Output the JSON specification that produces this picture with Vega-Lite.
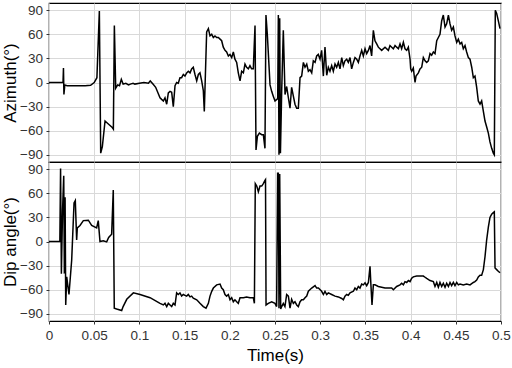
{
  "$schema": "https://vega.github.io/schema/vega-lite/v6.json",
  "padding": {"left": 1, "top": 2, "right": 5, "bottom": 0},
  "spacing": 0,
  "bounds": "flush",
  "background": "white",
  "config": {
    "font": "Liberation Sans",
    "view": {"stroke": "black", "strokeWidth": 1.2},
    "axis": {
      "gridColor": "#d9d9d9", "gridWidth": 1, "domain": false,
      "tickColor": "#333333", "tickSize": 3,
      "labelColor": "#333333", "labelFontSize": 13.5, "labelFont": "Liberation Sans",
      "titleFontSize": 17, "titleFontWeight": "normal", "titleColor": "black", "titleFont": "Liberation Sans"
    }
  },
  "resolve": {"scale": {"x": "independent", "y": "independent"}, "axis": {"x": "independent", "y": "independent"}},
  "datasets": {
    "az": [
      {"t":0,"v":0},{"t":0.0155,"v":0},{"t":0.016,"v":18},{"t":0.0165,"v":-15},{"t":0.0175,"v":-3},{"t":0.02,"v":-4},
      {"t":0.03,"v":-4},{"t":0.04,"v":-4},{"t":0.046,"v":-3.5},{"t":0.05,"v":0},{"t":0.053,"v":6},{"t":0.0557,"v":89},
      {"t":0.0572,"v":-88},{"t":0.059,"v":-80},{"t":0.062,"v":-48},{"t":0.065,"v":-51},{"t":0.07,"v":-56},{"t":0.0712,"v":-58},
      {"t":0.0723,"v":71},{"t":0.0738,"v":-7},{"t":0.076,"v":-3},{"t":0.078,"v":-4},{"t":0.08,"v":4},{"t":0.082,"v":-2},
      {"t":0.085,"v":-1},{"t":0.088,"v":-3},{"t":0.09,"v":-2},{"t":0.093,"v":-1},{"t":0.095,"v":-2},{"t":0.1,"v":-1},
      {"t":0.105,"v":0},{"t":0.11,"v":-1},{"t":0.112,"v":2},{"t":0.115,"v":-2},{"t":0.118,"v":-6},{"t":0.1228,"v":-19},
      {"t":0.1246,"v":-21},{"t":0.1265,"v":-23},{"t":0.1283,"v":-19},{"t":0.1302,"v":-27},{"t":0.132,"v":-13},{"t":0.1339,"v":-11},
      {"t":0.1357,"v":-12},{"t":0.1375,"v":-30},{"t":0.1394,"v":-4},{"t":0.1412,"v":0},{"t":0.143,"v":-1},{"t":0.1449,"v":6},
      {"t":0.1467,"v":6},{"t":0.1486,"v":10},{"t":0.1504,"v":8},{"t":0.1523,"v":12},{"t":0.1541,"v":14},{"t":0.156,"v":12},
      {"t":0.1578,"v":17},{"t":0.1596,"v":19},{"t":0.1615,"v":10},{"t":0.1634,"v":2},{"t":0.1652,"v":10},{"t":0.167,"v":12},
      {"t":0.1689,"v":2},{"t":0.1707,"v":-10},{"t":0.1718,"v":-36},{"t":0.1744,"v":63},{"t":0.1763,"v":67},{"t":0.1781,"v":58},
      {"t":0.18,"v":60},{"t":0.1818,"v":56},{"t":0.1836,"v":58},{"t":0.1855,"v":56},{"t":0.1873,"v":56},{"t":0.1892,"v":54},
      {"t":0.191,"v":52},{"t":0.1928,"v":44},{"t":0.1947,"v":40},{"t":0.1965,"v":38},{"t":0.1984,"v":33},{"t":0.2002,"v":35},
      {"t":0.2021,"v":31},{"t":0.2039,"v":38},{"t":0.2057,"v":29},{"t":0.2076,"v":25},{"t":0.2094,"v":12},{"t":0.2113,"v":2},
      {"t":0.2131,"v":14},{"t":0.215,"v":12},{"t":0.2168,"v":23},{"t":0.2186,"v":19},{"t":0.2205,"v":17},{"t":0.2223,"v":21},
      {"t":0.2241,"v":17},{"t":0.226,"v":17},{"t":0.2279,"v":71},{"t":0.229,"v":-84},{"t":0.2305,"v":-67},{"t":0.2327,"v":-63},
      {"t":0.2353,"v":-65},{"t":0.2371,"v":-65},{"t":0.2389,"v":-82},{"t":0.24,"v":84},{"t":0.2415,"v":60},{"t":0.2445,"v":-3},
      {"t":0.2463,"v":-11},{"t":0.2481,"v":-17},{"t":0.25,"v":-23},{"t":0.253,"v":-20},{"t":0.2537,"v":84},{"t":0.2544,"v":-90},
      {"t":0.2552,"v":80},{"t":0.256,"v":-88},{"t":0.2574,"v":-11},{"t":0.2592,"v":65},{"t":0.2611,"v":-15},{"t":0.2629,"v":-5},
      {"t":0.2648,"v":-19},{"t":0.2666,"v":-32},{"t":0.2684,"v":-6},{"t":0.2703,"v":-17},{"t":0.2721,"v":-27},{"t":0.274,"v":-32},
      {"t":0.2758,"v":-32},{"t":0.2777,"v":6},{"t":0.2795,"v":8},{"t":0.2814,"v":25},{"t":0.2832,"v":19},{"t":0.2851,"v":23},
      {"t":0.2869,"v":14},{"t":0.2887,"v":16},{"t":0.2906,"v":12},{"t":0.2924,"v":27},{"t":0.2943,"v":25},{"t":0.2961,"v":33},
      {"t":0.2979,"v":35},{"t":0.2998,"v":29},{"t":0.3016,"v":40},{"t":0.3035,"v":8},{"t":0.3053,"v":44},{"t":0.3072,"v":9},
      {"t":0.309,"v":19},{"t":0.3108,"v":14},{"t":0.3127,"v":21},{"t":0.3145,"v":14},{"t":0.3164,"v":23},{"t":0.3182,"v":19},
      {"t":0.3201,"v":25},{"t":0.3219,"v":17},{"t":0.3238,"v":31},{"t":0.3256,"v":21},{"t":0.3274,"v":27},{"t":0.3293,"v":29},
      {"t":0.3311,"v":25},{"t":0.333,"v":31},{"t":0.3348,"v":17},{"t":0.3367,"v":25},{"t":0.3385,"v":31},{"t":0.3404,"v":29},
      {"t":0.3422,"v":25},{"t":0.344,"v":33},{"t":0.3459,"v":40},{"t":0.3477,"v":33},{"t":0.3496,"v":42},{"t":0.3514,"v":36},
      {"t":0.3533,"v":40},{"t":0.3551,"v":46},{"t":0.3569,"v":33},{"t":0.3588,"v":65},{"t":0.3606,"v":52},{"t":0.3625,"v":48},
      {"t":0.3643,"v":44},{"t":0.368,"v":40},{"t":0.3717,"v":44},{"t":0.3754,"v":40},{"t":0.3772,"v":46},{"t":0.3791,"v":44},
      {"t":0.3809,"v":42},{"t":0.3828,"v":46},{"t":0.3846,"v":44},{"t":0.3865,"v":42},{"t":0.3883,"v":48},{"t":0.3901,"v":42},
      {"t":0.392,"v":50},{"t":0.3938,"v":42},{"t":0.3957,"v":40},{"t":0.3975,"v":44},{"t":0.3994,"v":29},{"t":0.4001,"v":17},
      {"t":0.4012,"v":14},{"t":0.403,"v":18},{"t":0.4049,"v":0},{"t":0.406,"v":8},{"t":0.4086,"v":12},{"t":0.4104,"v":17},
      {"t":0.4123,"v":19},{"t":0.4141,"v":31},{"t":0.416,"v":27},{"t":0.4178,"v":25},{"t":0.4196,"v":27},{"t":0.4215,"v":36},
      {"t":0.4233,"v":34},{"t":0.4252,"v":38},{"t":0.427,"v":36},{"t":0.4289,"v":52},{"t":0.4307,"v":56},{"t":0.4325,"v":60},
      {"t":0.4344,"v":77},{"t":0.4362,"v":84},{"t":0.4381,"v":69},{"t":0.4399,"v":73},{"t":0.4418,"v":84},{"t":0.4436,"v":73},
      {"t":0.4454,"v":65},{"t":0.4473,"v":69},{"t":0.4491,"v":58},{"t":0.451,"v":50},{"t":0.4528,"v":54},{"t":0.4547,"v":48},
      {"t":0.4565,"v":50},{"t":0.4583,"v":42},{"t":0.4602,"v":46},{"t":0.462,"v":38},{"t":0.4639,"v":31},{"t":0.4657,"v":29},
      {"t":0.4676,"v":19},{"t":0.4694,"v":6},{"t":0.4712,"v":8},{"t":0.4731,"v":-6},{"t":0.4749,"v":-23},{"t":0.4768,"v":-27},
      {"t":0.4786,"v":-23},{"t":0.4805,"v":-36},{"t":0.4823,"v":-48},{"t":0.4841,"v":-55},{"t":0.486,"v":-63},{"t":0.4878,"v":-74},
      {"t":0.4897,"v":-82},{"t":0.4915,"v":-88},{"t":0.4926,"v":-90},{"t":0.4937,"v":90},{"t":0.4952,"v":86},{"t":0.497,"v":77},
      {"t":0.4989,"v":67}
    ],
    "dip": [
      {"t":0,"v":0},{"t":0.012,"v":0},{"t":0.0128,"v":91},{"t":0.0137,"v":-40},{"t":0.015,"v":39},{"t":0.0163,"v":82},
      {"t":0.017,"v":-40},{"t":0.0178,"v":55},{"t":0.0185,"v":-79},{"t":0.0196,"v":-44},{"t":0.0221,"v":-66},{"t":0.0251,"v":-23},
      {"t":0.0277,"v":48},{"t":0.0291,"v":51},{"t":0.0306,"v":2},{"t":0.0313,"v":17},{"t":0.0343,"v":20},{"t":0.038,"v":26},
      {"t":0.0435,"v":26.5},{"t":0.0472,"v":20},{"t":0.0527,"v":17},{"t":0.0545,"v":26},{"t":0.0564,"v":0},{"t":0.06,"v":1},
      {"t":0.0638,"v":-0.5},{"t":0.066,"v":5},{"t":0.0693,"v":9},{"t":0.0711,"v":64},{"t":0.0722,"v":-83},{"t":0.0748,"v":-84},
      {"t":0.0804,"v":-86},{"t":0.082,"v":-81},{"t":0.086,"v":-72},{"t":0.0933,"v":-64},{"t":0.1007,"v":-66},{"t":0.1118,"v":-70},
      {"t":0.1228,"v":-77},{"t":0.1265,"v":-79},{"t":0.1283,"v":-77},{"t":0.1302,"v":-81},{"t":0.132,"v":-77},{"t":0.1339,"v":-79},
      {"t":0.1357,"v":-81},{"t":0.1375,"v":-77},{"t":0.1394,"v":-79},{"t":0.1412,"v":-64},{"t":0.143,"v":-66},{"t":0.1449,"v":-64},
      {"t":0.1467,"v":-68},{"t":0.1486,"v":-66},{"t":0.1504,"v":-67},{"t":0.1523,"v":-68},{"t":0.1541,"v":-66},{"t":0.156,"v":-69},
      {"t":0.1578,"v":-68},{"t":0.1596,"v":-70.5},{"t":0.1634,"v":-72.6},{"t":0.167,"v":-77},{"t":0.1707,"v":-81},{"t":0.1737,"v":-83},
      {"t":0.1763,"v":-77},{"t":0.1781,"v":-68},{"t":0.18,"v":-62},{"t":0.1818,"v":-58},{"t":0.1855,"v":-54},{"t":0.1892,"v":-53},
      {"t":0.191,"v":-58},{"t":0.1928,"v":-60},{"t":0.1947,"v":-66},{"t":0.1965,"v":-68},{"t":0.1984,"v":-66},{"t":0.2002,"v":-72.6},
      {"t":0.2021,"v":-70},{"t":0.2039,"v":-75},{"t":0.2057,"v":-72.6},{"t":0.2076,"v":-75},{"t":0.2094,"v":-77},{"t":0.2113,"v":-70},
      {"t":0.215,"v":-70},{"t":0.2186,"v":-69},{"t":0.2223,"v":-70},{"t":0.226,"v":-70},{"t":0.2272,"v":-77},{"t":0.2282,"v":72},
      {"t":0.2298,"v":69},{"t":0.2316,"v":62},{"t":0.2334,"v":69},{"t":0.2353,"v":69},{"t":0.2371,"v":72},{"t":0.2389,"v":76},
      {"t":0.2395,"v":77},{"t":0.2401,"v":-79},{"t":0.2426,"v":-77},{"t":0.2463,"v":-75},{"t":0.25,"v":-77},{"t":0.2518,"v":-81},
      {"t":0.2529,"v":85},{"t":0.2537,"v":85},{"t":0.2544,"v":-83},{"t":0.2552,"v":84},{"t":0.2563,"v":-84},{"t":0.2574,"v":-81},
      {"t":0.2592,"v":-77},{"t":0.261,"v":-81},{"t":0.2629,"v":-66},{"t":0.2648,"v":-68},{"t":0.2666,"v":-83},{"t":0.2684,"v":-72},
      {"t":0.2703,"v":-77},{"t":0.2721,"v":-75},{"t":0.274,"v":-79},{"t":0.2758,"v":-81},{"t":0.2777,"v":-75},{"t":0.2795,"v":-72.6},
      {"t":0.2814,"v":-72.6},{"t":0.2832,"v":-70},{"t":0.2851,"v":-68},{"t":0.2869,"v":-62},{"t":0.2906,"v":-58},{"t":0.2943,"v":-55},
      {"t":0.2961,"v":-58},{"t":0.298,"v":-58},{"t":0.3016,"v":-62},{"t":0.3035,"v":-66},{"t":0.3053,"v":-62},{"t":0.3072,"v":-66},
      {"t":0.309,"v":-64},{"t":0.3127,"v":-66},{"t":0.3164,"v":-68},{"t":0.3201,"v":-69},{"t":0.3238,"v":-71},{"t":0.3256,"v":-72.6},
      {"t":0.3274,"v":-68},{"t":0.3293,"v":-66},{"t":0.3311,"v":-67},{"t":0.333,"v":-64},{"t":0.3367,"v":-62},{"t":0.3385,"v":-58},
      {"t":0.3404,"v":-60},{"t":0.3422,"v":-56},{"t":0.344,"v":-58},{"t":0.3459,"v":-53},{"t":0.3477,"v":-54},{"t":0.3496,"v":-51.5},
      {"t":0.3514,"v":-55},{"t":0.3533,"v":-51},{"t":0.3551,"v":-31},{"t":0.3562,"v":-56},{"t":0.3573,"v":-79},{"t":0.3588,"v":-54},
      {"t":0.3606,"v":-54},{"t":0.3643,"v":-56},{"t":0.368,"v":-57},{"t":0.3717,"v":-58},{"t":0.3754,"v":-58},{"t":0.3772,"v":-58},
      {"t":0.3791,"v":-58},{"t":0.3809,"v":-60},{"t":0.3846,"v":-56},{"t":0.3883,"v":-54},{"t":0.3901,"v":-52},{"t":0.392,"v":-54},
      {"t":0.3938,"v":-50},{"t":0.3957,"v":-51},{"t":0.3975,"v":-48.6},{"t":0.3994,"v":-50},{"t":0.4012,"v":-45.7},{"t":0.403,"v":-44},
      {"t":0.4067,"v":-43},{"t":0.4104,"v":-43},{"t":0.4141,"v":-43},{"t":0.416,"v":-44.5},{"t":0.4178,"v":-46},{"t":0.4215,"v":-48.6},
      {"t":0.4252,"v":-50},{"t":0.427,"v":-56},{"t":0.4289,"v":-51},{"t":0.4307,"v":-57},{"t":0.4325,"v":-51},{"t":0.4344,"v":-56},
      {"t":0.4362,"v":-52},{"t":0.4381,"v":-57},{"t":0.4399,"v":-52},{"t":0.4418,"v":-56},{"t":0.4436,"v":-51},{"t":0.4454,"v":-55},
      {"t":0.4473,"v":-51},{"t":0.4491,"v":-55},{"t":0.451,"v":-51},{"t":0.4528,"v":-54},{"t":0.4547,"v":-53},{"t":0.4583,"v":-54},
      {"t":0.462,"v":-53},{"t":0.4657,"v":-54},{"t":0.4694,"v":-51},{"t":0.4712,"v":-50},{"t":0.4731,"v":-48},{"t":0.4749,"v":-44},
      {"t":0.4768,"v":-42},{"t":0.4786,"v":-42},{"t":0.4805,"v":-35},{"t":0.4823,"v":-19},{"t":0.4841,"v":1.6},{"t":0.486,"v":18},
      {"t":0.4878,"v":30},{"t":0.4897,"v":34},{"t":0.4915,"v":36},{"t":0.4926,"v":37},{"t":0.4934,"v":-33},{"t":0.4952,"v":-35},
      {"t":0.497,"v":-37},{"t":0.4989,"v":-39}
    ]
  },
  "vconcat": [
    {
      "width": 452, "height": 159,
      "data": {"name": "az"},
      "mark": {"type": "line", "color": "black", "strokeWidth": 1.5, "clip": true},
      "encoding": {
        "x": {"field": "t", "type": "quantitative", "scale": {"domain": [0, 0.5], "nice": false, "zero": false},
              "axis": {"values": [0,0.05,0.1,0.15,0.2,0.25,0.3,0.35,0.4,0.45,0.5], "labels": false, "ticks": false, "tickSize": 0, "labelPadding": 0, "title": null, "grid": true, "minExtent": 0, "maxExtent": 0}},
        "y": {"field": "v", "type": "quantitative", "scale": {"domain": [-99, 99], "nice": false},
              "axis": {"values": [-90,-60,-30,0,30,60,90], "title": "Azimuth(°)", "labelPadding": 3.5, "titlePadding": 0}}
      }
    },
    {
      "width": 452, "height": 159,
      "data": {"name": "dip"},
      "mark": {"type": "line", "color": "black", "strokeWidth": 1.5, "clip": true},
      "encoding": {
        "x": {"field": "t", "type": "quantitative", "scale": {"domain": [0, 0.5], "nice": false, "zero": false},
              "axis": {"values": [0,0.05,0.1,0.15,0.2,0.25,0.3,0.35,0.4,0.45,0.5], "format": "~g", "labelFlush": false, "title": "Time(s)", "grid": true, "labelPadding": 4, "titlePadding": 6}},
        "y": {"field": "v", "type": "quantitative", "scale": {"domain": [-99, 99], "nice": false},
              "axis": {"values": [-90,-60,-30,0,30,60,90], "title": "Dip angle(°)", "labelPadding": 3.5, "titlePadding": 0}}
      }
    }
  ]
}
